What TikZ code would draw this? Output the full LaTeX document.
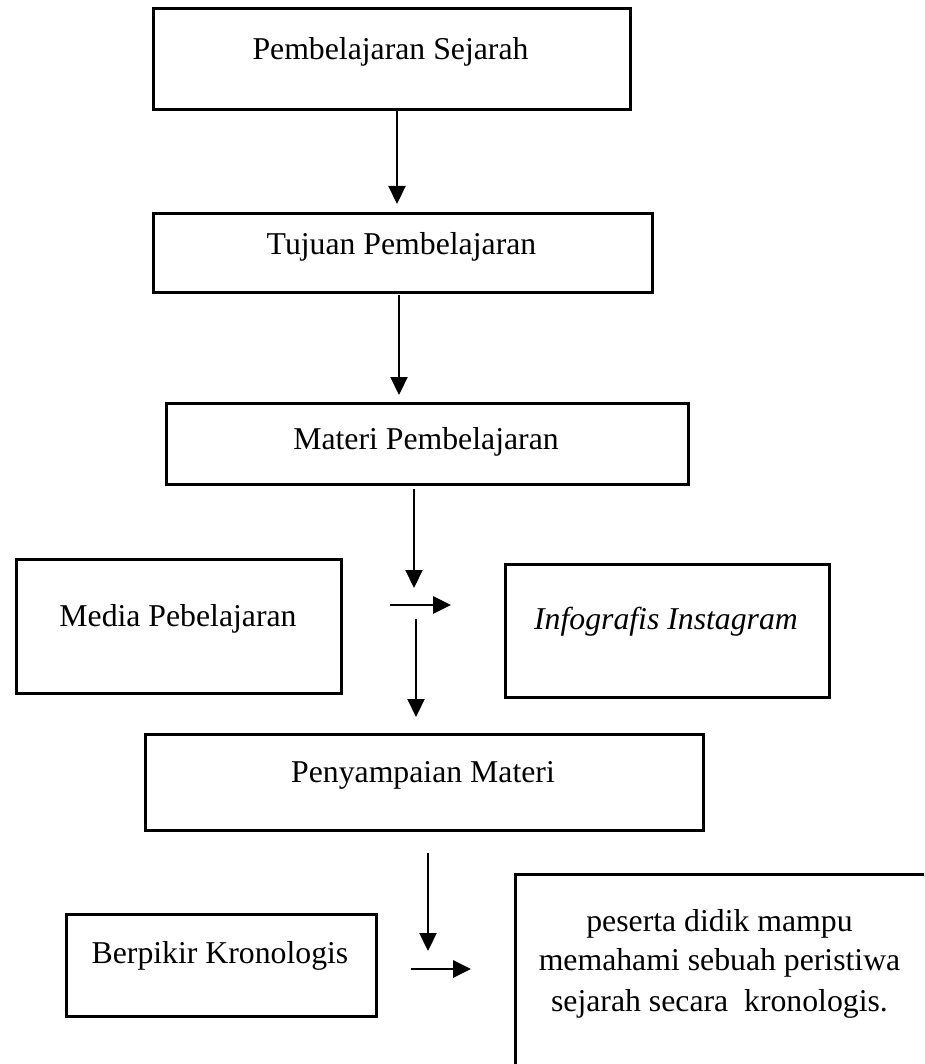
\documentclass[tikz,border=0pt]{standalone}
\usepackage{fontspec}
\setmainfont{Liberation Serif}
\usetikzlibrary{arrows.meta}
\begin{document}
\begin{tikzpicture}[x=1pt,y=-1pt,
  box/.style={draw=black, line width=2.6pt, rectangle, inner sep=0pt, anchor=north west},
  lbl/.style={anchor=base, inner sep=0pt, font=\fontsize{31.75}{40}\selectfont},
  arr/.style={draw=black, line width=2.2pt, -{Triangle[length=18pt,width=17pt]}},
  harr/.style={arr, line width=2.8pt}]
\path[use as bounding box] (0,0) rectangle (924,1064);
\clip (0,0) rectangle (924,1064);
% boxes
\node[box, minimum width=477pt, minimum height=101pt] (b1) at (152,7) {};
\node[box, minimum width=499pt, minimum height=79pt] (b2) at (152,212) {};
\node[box, minimum width=522pt, minimum height=81pt] (b3) at (165,402) {};
\node[box, minimum width=325pt, minimum height=134pt] (b4) at (15,558) {};
\node[box, minimum width=324pt, minimum height=133pt] (b5) at (504,563) {};
\node[box, minimum width=558pt, minimum height=96pt] (b6) at (144,733) {};
\node[box, minimum width=310pt, minimum height=102pt] (b7) at (65,913) {};
\node[box, minimum width=414pt, minimum height=200pt] (b8) at (514,873) {};
% texts
\node[lbl] (t1) at (390.5,60) {Pembelajaran Sejarah};
\node[lbl] (t2) at (401.5,255) {Tujuan Pembelajaran};
\node[lbl] (t3) at (426,449) {Materi Pembelajaran};
\node[lbl] (t4) at (178,626) {Media Pebelajaran};
\node[lbl] (t5) at (666,629) {\itshape Infografis Instagram};
\node[lbl] (t6) at (423,782) {Penyampaian Materi};
\node[lbl] (t7) at (220,963) {Berpikir Kronologis};
\node[lbl] (t8a) at (719.5,931) {peserta didik mampu};
\node[lbl] (t8b) at (719.5,970) {memahami sebuah peristiwa};
\node[lbl] (t8c) at (719.5,1011) {sejarah secara~ kronologis.};
% connector ends
\coordinate (a1e) at (397,204);
\coordinate (a2s) at (399,295);
\coordinate (a2e) at (399,395);
\coordinate (a3s) at (414,489);
\coordinate (a3e) at (414,588);
\coordinate (h1s) at (390,605);
\coordinate (h1e) at (451,605);
\coordinate (a4s) at (416,619);
\coordinate (a4e) at (416,717);
\coordinate (a5s) at (428,853);
\coordinate (a5e) at (428,951);
\coordinate (h2s) at (411,969);
\coordinate (h2e) at (471,969);
% connectors
\draw[arr] (b1.south -| a1e) -- (a1e);
\draw[arr] (a2s) -- (a2e);
\draw[arr] (a3s) -- (a3e);
\draw[harr] (h1s) -- (h1e);
\draw[arr] (a4s) -- (a4e);
\draw[arr] (a5s) -- (a5e);
\draw[harr] (h2s) -- (h2e);
\end{tikzpicture}
\end{document}
